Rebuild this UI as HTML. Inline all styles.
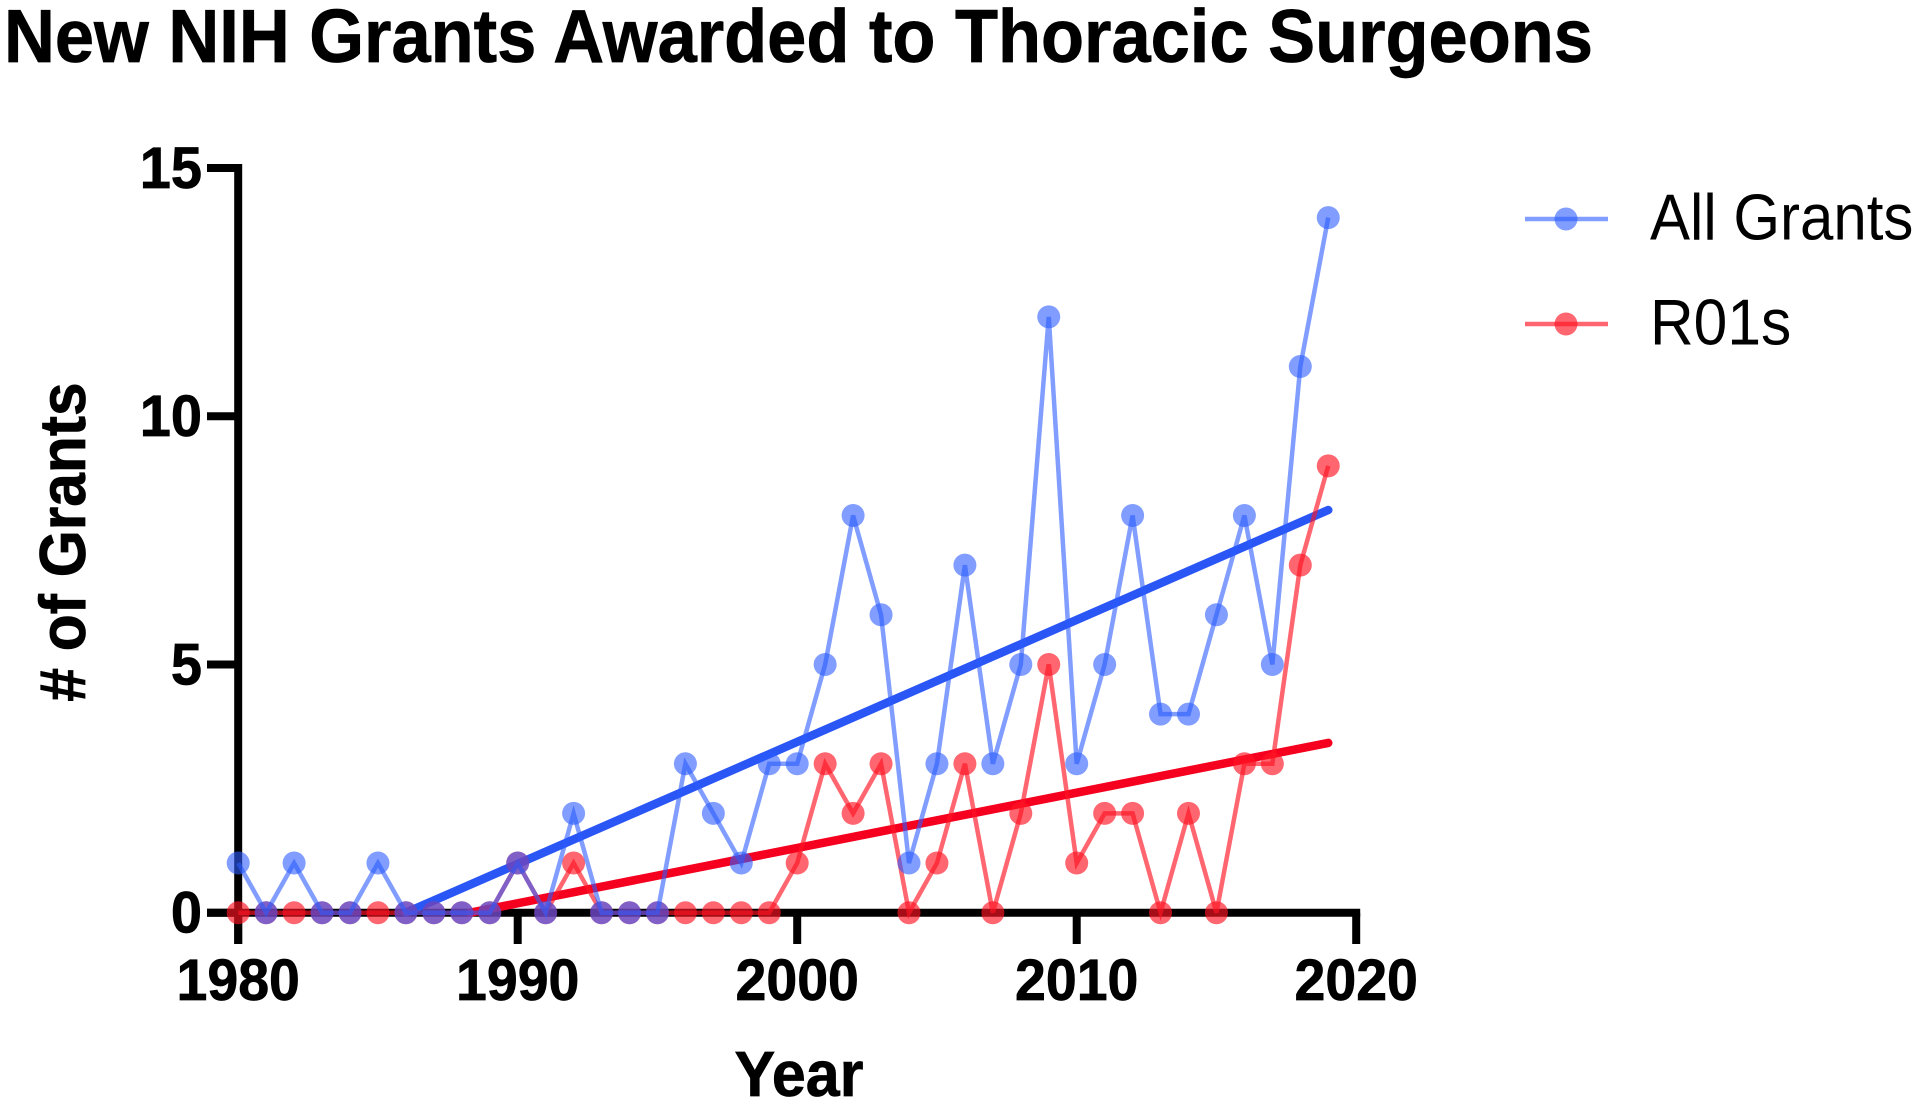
<!DOCTYPE html>
<html lang="en">
<head>
<meta charset="utf-8">
<title>New NIH Grants Awarded to Thoracic Surgeons</title>
<style>
  html, body { margin: 0; padding: 0; background: #fff; }
  svg { display: block; }
  text { font-family: "Liberation Sans", Arial, sans-serif; fill: #000; }
  .bold { font-weight: 700; stroke: #000; stroke-width: 0.7px; }
</style>
</head>
<body>
<svg id="chart" xmlns="http://www.w3.org/2000/svg" width="1920" height="1105" viewBox="0 0 1920 1105">
  <rect width="1920" height="1105" fill="#fff"/>
  <text class="bold" font-size="70.45" transform="translate(4 62) scale(1 1.07)">New NIH Grants Awarded to Thoracic Surgeons</text>
  <text class="bold" font-size="60.5" text-anchor="middle" transform="translate(85 542) rotate(-90) scale(1 1.07)"># of Grants</text>
  <text class="bold" font-size="61" text-anchor="middle" transform="translate(799 1096) scale(1 1.05)">Year</text>
  <g id="axes"></g>
  <g id="trends"></g>
  <g id="series-r01"></g>
  <g id="series-all"></g>
  <g>
    <g>
      <line x1="1525" x2="1608" y1="219" y2="219" stroke="#2b5cff" stroke-opacity="0.6" stroke-width="4.5"/>
      <ellipse cx="1566" cy="219" rx="11.5" ry="11.5" fill="#2b5cff" fill-opacity="0.6"/>
      <text font-size="60" transform="translate(1650 239.5) scale(1 1.08)">All Grants</text>
    </g>
    <g>
      <line x1="1525" x2="1608" y1="324" y2="324" stroke="#ff1423" stroke-opacity="0.65" stroke-width="4.5"/>
      <ellipse cx="1566" cy="324" rx="11.5" ry="11.5" fill="#ff1423" fill-opacity="0.65"/>
      <text font-size="60.5" transform="translate(1650 344.5) scale(1 1.08)">R01s</text>
    </g>
  </g>
</svg>
<script>
const years = [1980,1981,1982,1983,1984,1985,1986,1987,1988,1989,1990,1991,1992,1993,1994,1995,1996,1997,1998,1999,2000,2001,2002,2003,2004,2005,2006,2007,2008,2009,2010,2011,2012,2013,2014,2015,2016,2017,2018,2019];
const allGrants = [1,0,1,0,0,1,0,0,0,0,1,0,2,0,0,0,3,2,1,3,3,5,8,6,1,3,7,3,5,12,3,5,8,4,4,6,8,5,11,14];
const r01Grants = [0,0,0,0,0,0,0,0,0,0,1,0,1,0,0,0,0,0,0,0,1,3,2,3,0,1,3,0,2,5,1,2,2,0,2,0,3,3,7,9];
const trendAllYears = [1986,2019];
const trendAllValues = [0,8.11];
const trendR01Years = [1988.3,2019];
const trendR01Values = [0,3.42];
const xTicks = [1980,1990,2000,2010,2020];
const yTicks = [0,5,10,15];

const NS = 'http://www.w3.org/2000/svg';
const xScale = function (year) { return 238.2 + (year - 1980) * 27.95; };
const yScale = function (value) { return 912.7 - value * 49.65; };

function make(tag, parent) {
  const el = document.createElementNS(NS, tag);
  parent.appendChild(el);
  return el;
}

const BLACK = '#000';
const axes = document.getElementById('axes');

const yAxisLine = make('line', axes);


yAxisLine.setAttribute('x1', xScale(1980));
yAxisLine.setAttribute('x2', xScale(1980));
yAxisLine.setAttribute('y1', yScale(15) - 4);
yAxisLine.setAttribute('y2', 944);
yAxisLine.setAttribute('stroke', BLACK);
yAxisLine.setAttribute('stroke-width', 8);

const xAxisLine = make('line', axes);


xAxisLine.setAttribute('x1', 207);
xAxisLine.setAttribute('x2', xScale(2020) + 4);
xAxisLine.setAttribute('y1', yScale(0));
xAxisLine.setAttribute('y2', yScale(0));
xAxisLine.setAttribute('stroke', BLACK);
xAxisLine.setAttribute('stroke-width', 8);

yTicks.forEach(function (v) {
  const tick = make('line', axes);
  
  
  tick.setAttribute('x1', 207);
  tick.setAttribute('x2', xScale(1980));
  tick.setAttribute('y1', yScale(v));
  tick.setAttribute('y2', yScale(v));
  tick.setAttribute('stroke', BLACK);
  tick.setAttribute('stroke-width', 8);

  const label = make('text', axes);
  
  
  label.setAttribute('class', 'bold');
  label.setAttribute('transform', 'translate(202 ' + (yScale(v) + 20) + ') scale(1 1.05)');
  label.setAttribute('font-size', 56);
  label.setAttribute('text-anchor', 'end');
  label.textContent = v;
});

xTicks.forEach(function (t) {
  const tick = make('line', axes);
  
  
  tick.setAttribute('x1', xScale(t));
  tick.setAttribute('x2', xScale(t));
  tick.setAttribute('y1', yScale(0));
  tick.setAttribute('y2', 944);
  tick.setAttribute('stroke', BLACK);
  tick.setAttribute('stroke-width', 8);

  const label = make('text', axes);
  
  
  label.setAttribute('class', 'bold');
  label.setAttribute('transform', 'translate(' + xScale(t) + ' 1000) scale(1 1.05)');
  label.setAttribute('font-size', 55.5);
  label.setAttribute('text-anchor', 'middle');
  label.textContent = t;
});

const trendGroup = document.getElementById('trends');

const trendR01 = make('line', trendGroup);


trendR01.setAttribute('x1', xScale(trendR01Years[0]));
trendR01.setAttribute('y1', yScale(trendR01Values[0]));
trendR01.setAttribute('x2', xScale(trendR01Years[1]));
trendR01.setAttribute('y2', yScale(trendR01Values[1]));
trendR01.setAttribute('stroke', '#f5001e');
trendR01.setAttribute('stroke-width', 8.5);
trendR01.setAttribute('stroke-linecap', 'round');

const trendAll = make('line', trendGroup);


trendAll.setAttribute('x1', xScale(trendAllYears[0]));
trendAll.setAttribute('y1', yScale(trendAllValues[0]));
trendAll.setAttribute('x2', xScale(trendAllYears[1]));
trendAll.setAttribute('y2', yScale(trendAllValues[1]));
trendAll.setAttribute('stroke', '#2a56f5');
trendAll.setAttribute('stroke-width', 8.5);
trendAll.setAttribute('stroke-linecap', 'round');

function drawSeries(groupId, values, color, opacity, lineName, pointName) {
  const group = document.getElementById(groupId);
  const pts = values.map(function (v, i) { return xScale(years[i]) + ',' + yScale(v); }).join(' ');
  const line = make('polyline', group);
  
  
  line.setAttribute('points', pts);
  line.setAttribute('fill', 'none');
  line.setAttribute('stroke', color);
  line.setAttribute('stroke-opacity', opacity);
  line.setAttribute('stroke-width', 4.5);
  line.setAttribute('stroke-linejoin', 'miter');
  values.forEach(function (v, i) {
    const dot = make('circle', group);
    
    
    dot.setAttribute('cx', xScale(years[i]));
    dot.setAttribute('cy', yScale(v));
    dot.setAttribute('r', 11.5);
    dot.setAttribute('fill', color);
    dot.setAttribute('fill-opacity', opacity);
  });
}

drawSeries('series-r01', r01Grants, '#ff1423', 0.65, 'r01-line', 'r01-point');
drawSeries('series-all', allGrants, '#2b5cff', 0.6, 'all-grants-line', 'all-grants-point');
</script>
</body>
</html>
